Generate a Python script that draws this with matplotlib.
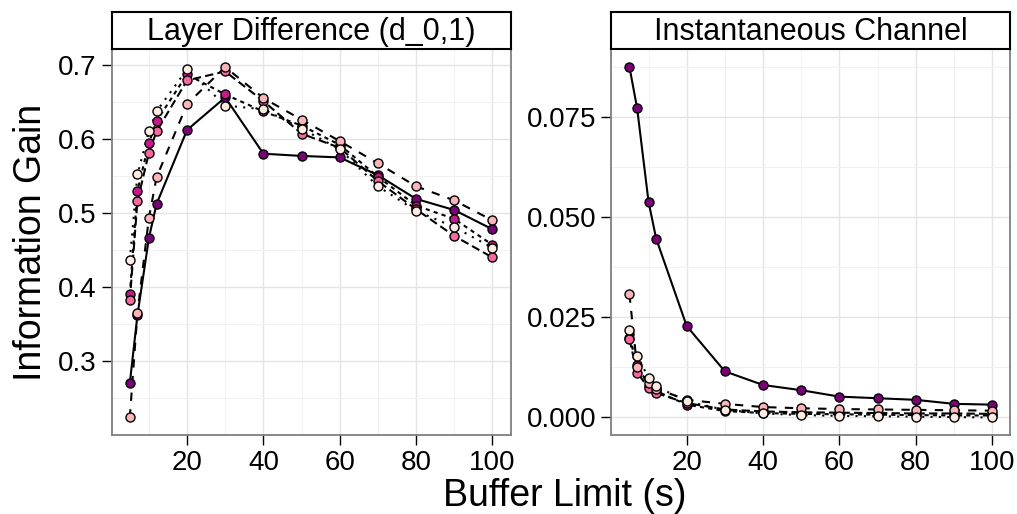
import matplotlib.pyplot as plt
from matplotlib.ticker import MultipleLocator, FormatStrFormatter

plt.rcParams['font.family'] = ['Liberation Sans', 'DejaVu Sans']

# x positions (buffer limit, seconds)
buffer_s = [5, 7, 10, 12, 20, 30, 40, 50, 60, 70, 80, 90, 100]

# Layer Difference (d_0,1) panel, one list per series
layer_a = [0.270, 0.362, 0.466, 0.512, 0.612, 0.656, 0.580, 0.577, 0.575, 0.551, 0.519, 0.504, 0.478]
layer_b = [0.390, 0.530, 0.594, 0.624, 0.687, 0.660, 0.637, 0.618, 0.592, 0.549, 0.510, 0.492, 0.457]
layer_c = [0.382, 0.516, 0.581, 0.610, 0.679, 0.691, 0.651, 0.607, 0.588, 0.543, 0.505, 0.469, 0.440]
layer_d = [0.224, 0.365, 0.493, 0.548, 0.647, 0.697, 0.655, 0.626, 0.597, 0.567, 0.536, 0.517, 0.490]
layer_e = [0.436, 0.552, 0.610, 0.637, 0.694, 0.645, 0.640, 0.614, 0.586, 0.536, 0.503, 0.481, 0.453]

# Instantaneous Channel panel
inst_a = [0.0874, 0.0772, 0.0538, 0.0446, 0.0228, 0.0115, 0.0081, 0.0068, 0.0052, 0.0048, 0.0044, 0.0034, 0.0032]
inst_b = [0.0199, 0.0132, 0.0078, 0.0066, 0.0032, 0.0016, 0.0011, 0.0009, 0.0008, 0.0007, 0.0006, 0.0005, 0.0005]
inst_c = [0.0195, 0.0112, 0.0074, 0.0061, 0.0036, 0.0020, 0.0015, 0.0013, 0.0012, 0.0011, 0.0010, 0.0010, 0.0009]
inst_d = [0.0307, 0.0125, 0.0085, 0.0072, 0.0044, 0.0034, 0.0026, 0.0023, 0.0021, 0.0020, 0.0019, 0.0018, 0.0017]
inst_e = [0.0217, 0.0154, 0.0099, 0.0078, 0.0040, 0.0019, 0.0010, 0.0006, 0.0004, 0.0003, 0.0002, 0.0001, 0.0000]

colors = ['#7A0177', '#C51B8A', '#F768A1', '#FBB4B9', '#FEEBE2']
styles = ['solid', (0, (2, 2)), (0, (4, 2)), (0, (4, 4)), (0, (1, 3))]

panels = [
    ('Layer Difference (d_0,1)', [layer_a, layer_b, layer_c, layer_d, layer_e], 0.1, '%.1f'),
    ('Instantaneous Channel', [inst_a, inst_b, inst_c, inst_d, inst_e], 0.025, '%.3f'),
]

fig = plt.figure(figsize=(10.17, 5.14), dpi=100)
lefts = [0.1098, 0.6011]
width = 0.3922
bottom, height = 0.1537, 0.750

for (title, series, step, fmt), left in zip(panels, lefts):
    ax = fig.add_axes([left, bottom, width, height])
    for ys, ls in zip(series, styles):
        ax.plot(buffer_s, ys, color='black', linestyle=ls, linewidth=1.5, zorder=2)
    for ys, c in zip(series, colors):
        ax.plot(buffer_s, ys, linestyle='none', marker='o', markersize=6.5,
                markerfacecolor=c, markeredgecolor='black', markeredgewidth=1.0, zorder=3)
    ax.margins(0.05)
    ax.xaxis.set_major_locator(MultipleLocator(20))
    ax.xaxis.set_minor_locator(MultipleLocator(10))
    ax.yaxis.set_major_locator(MultipleLocator(step))
    ax.yaxis.set_minor_locator(MultipleLocator(step / 2))
    ax.yaxis.set_major_formatter(FormatStrFormatter(fmt))
    ax.grid(which='major', color='#e4e4e4', linewidth=1.0)
    ax.grid(which='minor', color='#f1f1f1', linewidth=0.7)
    ax.set_axisbelow(True)
    ax.tick_params(which='major', length=7, width=1.0, labelsize=20, pad=4, color='black')
    ax.tick_params(which='minor', length=0)
    for sp in ax.spines.values():
        sp.set_color('#7f7f7f')
        sp.set_linewidth(1.3)
    ax.set_xlim(0.25, 104.75)

    strip = fig.add_axes([left, bottom + height, width, 0.073])
    strip.set_xticks([])
    strip.set_yticks([])
    for sp in strip.spines.values():
        sp.set_color('black')
        sp.set_linewidth(1.5)
    strip.text(0.5, 0.47, title, ha='center', va='center', fontsize=22, transform=strip.transAxes)

fig.text(0.03, bottom + height / 2, 'Information Gain', rotation=90, ha='center', va='center', fontsize=27)
fig.text(0.555, 1 - 506 / 514, 'Buffer Limit (s)', ha='center', va='baseline', fontsize=27)

fig.savefig('out.png', dpi=100)
